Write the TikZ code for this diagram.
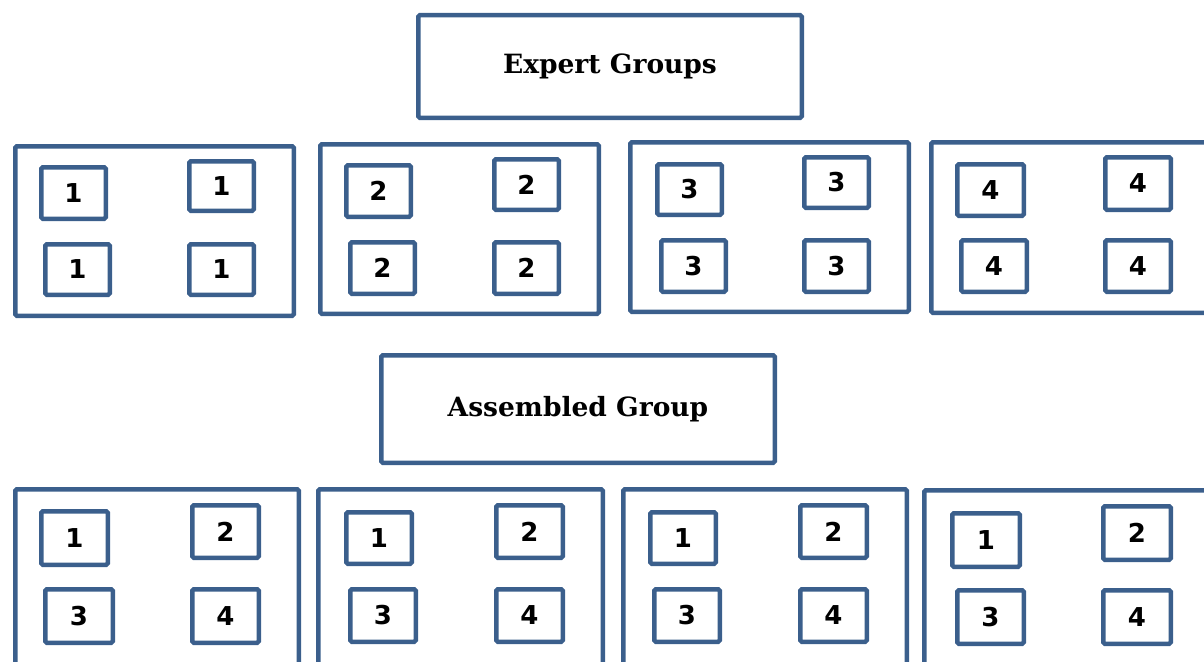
\documentclass[tikz,border=0pt]{standalone}
\usepackage{fontspec}
\setmainfont{DejaVu Serif}
\newfontfamily\numfont{DejaVu Sans}
\definecolor{bc}{HTML}{3B5F8C}
\tikzset{
  sbox/.style={draw=bc, line width=4.5pt, rounded corners=1.5pt, inner sep=0pt, font=\numfont\bfseries\fontsize{26}{26}\selectfont},
  obox/.style={draw=bc, line width=4.5pt, rounded corners=1.5pt, inner sep=0pt},
  tbox/.style={draw=bc, line width=4.5pt, rounded corners=1.5pt, inner sep=0pt, font=\bfseries\fontsize{26.5}{26.5}\selectfont}
}
\newcommand\bx[7][sbox]{\node[#1, minimum width={#5-#3-4.5}, minimum height={#6-#4-4.5}] (#2) at ({(#3+#5)/2},{(#4+#6)/2}) {#7};}
\begin{document}
\begin{tikzpicture}[x=1pt,y=-1pt]
\useasboundingbox (0,0) rectangle (1204,661);
\clip (0,0) rectangle (1204,661);
% titles
\bx[tbox]{expert}{416}{13}{804}{120}{Expert Groups}
\bx[tbox]{assembled}{379}{353}{777}{465}{Assembled Group}
% expert outer boxes
\bx[obox]{EA}{13}{144}{296}{318}{}
\bx[obox]{EB}{318}{142}{601}{316}{}
\bx[obox]{EC}{628}{140}{911}{314}{}
\bx[obox]{ED}{929}{140}{1230}{315}{}
% expert inner
\bx{ea1}{39}{165}{108}{221}{1}
\bx{ea2}{187}{159}{256}{213}{1}
\bx{ea3}{43}{242}{112}{297}{1}
\bx{ea4}{187}{242}{256}{297}{1}
\bx{eb1}{344}{163}{413}{219}{2}
\bx{eb2}{492}{157}{561}{212}{2}
\bx{eb3}{348}{240}{417}{296}{2}
\bx{eb4}{492}{240}{561}{296}{2}
\bx{ec1}{655}{162}{724}{217}{3}
\bx{ec2}{802}{155}{871}{210}{3}
\bx{ec3}{659}{238}{728}{294}{3}
\bx{ec4}{802}{238}{871}{294}{3}
\bx{ed1}{955}{162}{1026}{218}{4}
\bx{ed2}{1103}{155}{1173}{212}{4}
\bx{ed3}{959}{238}{1029}{294}{4}
\bx{ed4}{1103}{238}{1173}{294}{4}
% assembled outer boxes
\bx[obox]{AA}{13}{487}{301}{700}{}
\bx[obox]{AB}{316}{487}{605}{700}{}
\bx[obox]{AC}{621}{487}{909}{700}{}
\bx[obox]{AD}{922}{488}{1230}{700}{}
% assembled inner
\bx{aa1}{39}{509}{110}{567}{1}
\bx{aa2}{190}{503}{261}{560}{2}
\bx{aa3}{43}{587}{115}{645}{3}
\bx{aa4}{190}{587}{261}{645}{4}
\bx{ab1}{344}{510}{414}{566}{1}
\bx{ab2}{494}{503}{565}{560}{2}
\bx{ab3}{348}{587}{418}{644}{3}
\bx{ab4}{494}{587}{565}{644}{4}
\bx{ac1}{648}{510}{718}{566}{1}
\bx{ac2}{798}{503}{869}{560}{2}
\bx{ac3}{652}{587}{722}{644}{3}
\bx{ac4}{798}{587}{869}{644}{4}
\bx{ad1}{950}{511}{1022}{569}{1}
\bx{ad2}{1101}{504}{1173}{562}{2}
\bx{ad3}{955}{588}{1026}{646}{3}
\bx{ad4}{1101}{588}{1173}{646}{4}
\end{tikzpicture}
\end{document}
